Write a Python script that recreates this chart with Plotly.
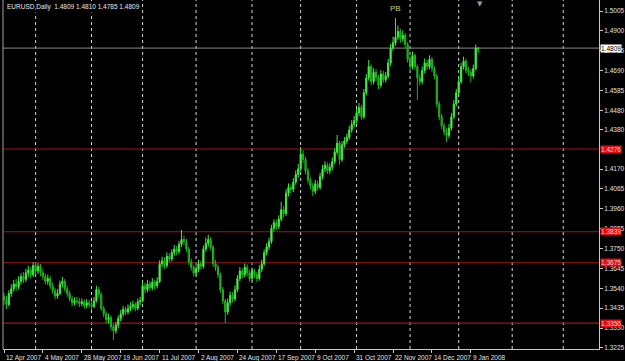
import pandas as pd
import plotly.graph_objects as go

# ---------------- data ----------------
holidays = ["2007-12-25", "2008-01-01"]
dates = [d for d in pd.bdate_range("2007-04-12", "2008-01-14") if d.strftime("%Y-%m-%d") not in holidays]

opens = [
1.3495,1.3480,1.3455,1.3513,1.3538,1.3563,1.3548,1.3577,1.3602,1.3587,
1.3622,1.3636,1.3612,1.3661,1.3631,1.3656,1.3622,1.3602,1.3577,1.3592,
1.3553,1.3528,1.3499,1.3513,1.3563,1.3577,1.3538,1.3513,1.3484,1.3464,
1.3474,1.3470,1.3459,1.3469,1.3449,1.3464,1.3454,1.3444,1.3474,1.3533,
1.3508,1.3434,1.3405,1.3375,1.3385,1.3336,1.3316,1.3346,1.3380,1.3405,
1.3429,1.3415,1.3434,1.3444,1.3454,1.3434,1.3469,1.3474,1.3553,1.3533,
1.3563,1.3543,1.3572,1.3553,1.3577,1.3670,1.3685,1.3660,1.3709,1.3695,
1.3729,1.3748,1.3734,1.3773,1.3798,1.3788,1.3748,1.3680,1.3651,1.3621,
1.3641,1.3670,1.3656,1.3748,1.3778,1.3798,1.3758,1.3670,1.3651,1.3612,
1.3533,1.3474,1.3415,1.3464,1.3503,1.3484,1.3533,1.3592,1.3631,1.3612,
1.3651,1.3622,1.3592,1.3631,1.3612,1.3592,1.3641,1.3670,1.3729,1.3758,
1.3788,1.3857,1.3886,1.3867,1.3906,1.3955,1.3935,1.4043,1.4073,1.4063,
1.4102,1.4141,1.4171,1.4249,1.4220,1.4161,1.4112,1.4082,1.4053,1.4092,
1.4073,1.4131,1.4171,1.4190,1.4161,1.4180,1.4210,1.4259,1.4308,1.4220,
1.4298,1.4318,1.4338,1.4377,1.4407,1.4426,1.4466,1.4495,1.4446,1.4573,
1.4652,1.4711,1.4632,1.4681,1.4652,1.4613,1.4672,1.4642,1.4662,1.4730,
1.4809,1.4838,1.4867,1.4897,1.4858,1.4877,1.4828,1.4750,1.4711,1.4770,
1.4711,1.4652,1.4632,1.4691,1.4730,1.4711,1.4750,1.4701,1.4662,1.4514,
1.4446,1.4397,1.4367,1.4348,1.4387,1.4446,1.4514,1.4573,1.4632,1.4711,
1.4740,1.4691,1.4681,1.4662,1.4701,1.4809]

highs = [
1.3516,1.3501,1.3530,1.3561,1.3584,1.3589,1.3604,1.3620,1.3626,1.3644,
1.3659,1.3653,1.3679,1.3677,1.3673,1.3669,1.3643,1.3618,1.3613,1.3606,
1.3571,1.3543,1.3536,1.3582,1.3600,1.3589,1.3554,1.3526,1.3500,1.3492,
1.3496,1.3489,1.3486,1.3481,1.3483,1.3480,1.3472,1.3495,1.3554,1.3547,
1.3519,1.3447,1.3418,1.3406,1.3397,1.3351,1.3362,1.3397,1.3426,1.3447,
1.3443,1.3455,1.3466,1.3475,1.3467,1.3486,1.3495,1.3574,1.3571,1.3585,
1.3579,1.3594,1.3586,1.3599,1.3688,1.3707,1.3704,1.3730,1.3726,1.3746,
1.3769,1.3764,1.3790,1.3848,1.3819,1.3802,1.3759,1.3697,1.3663,1.3661,
1.3691,1.3686,1.3766,1.3808,1.3824,1.3811,1.3768,1.3691,1.3665,1.3623,
1.3547,1.3485,1.3486,1.3523,1.3520,1.3555,1.3610,1.3652,1.3646,1.3671,
1.3667,1.3636,1.3648,1.3643,1.3628,1.3661,1.3691,1.3746,1.3779,1.3808,
1.3875,1.3904,1.3903,1.3926,1.3998,1.3974,1.4063,1.4094,1.4090,1.4122,
1.4163,1.4196,1.4287,1.4270,1.4234,1.4177,1.4126,1.4098,1.4113,1.4108,
1.4151,1.4192,1.4212,1.4205,1.4200,1.4231,1.4280,1.4350,1.4320,1.4318,
1.4339,1.4357,1.4398,1.4428,1.4451,1.4489,1.4519,1.4509,1.4593,1.4673,
1.4746,1.4723,1.4703,1.4698,1.4666,1.4692,1.4688,1.4683,1.4752,1.4831,
1.4869,1.4968,1.4928,1.4911,1.4902,1.4889,1.4840,1.4766,1.4791,1.4781,
1.4722,1.4671,1.4712,1.4754,1.4747,1.4771,1.4762,1.4713,1.4672,1.4529,
1.4461,1.4413,1.4385,1.4408,1.4467,1.4535,1.4594,1.4654,1.4731,1.4764,
1.4753,1.4711,1.4698,1.4722,1.4828,1.4810]

lows = [
1.3452,1.3430,1.3444,1.3495,1.3523,1.3527,1.3535,1.3560,1.3568,1.3573,
1.3602,1.3591,1.3600,1.3613,1.3616,1.3604,1.3583,1.3561,1.3559,1.3537,
1.3511,1.3482,1.3485,1.3505,1.3545,1.3522,1.3496,1.3470,1.3445,1.3451,
1.3455,1.3441,1.3444,1.3432,1.3435,1.3438,1.3426,1.3436,1.3465,1.3490,
1.3422,1.3387,1.3356,1.3353,1.3317,1.3267,1.3300,1.3330,1.3366,1.3391,
1.3398,1.3402,1.3419,1.3427,1.3418,1.3423,1.3451,1.3466,1.3514,1.3519,
1.3526,1.3530,1.3534,1.3540,1.3568,1.3652,1.3643,1.3648,1.3677,1.3681,
1.3712,1.3716,1.3720,1.3759,1.3767,1.3731,1.3664,1.3633,1.3603,1.3606,
1.3627,1.3638,1.3645,1.3733,1.3760,1.3740,1.3654,1.3632,1.3594,1.3517,
1.3456,1.3357,1.3400,1.3448,1.3466,1.3471,1.3520,1.3578,1.3594,1.3598,
1.3604,1.3575,1.3580,1.3595,1.3572,1.3580,1.3626,1.3660,1.3714,1.3743,
1.3776,1.3840,1.3849,1.3854,1.3893,1.3915,1.3922,1.4025,1.4043,1.4049,
1.4087,1.4124,1.4158,1.4202,1.4143,1.4094,1.4063,1.4027,1.4038,1.4056,
1.4061,1.4116,1.4154,1.4144,1.4143,1.4164,1.4196,1.4246,1.4193,1.4207,
1.4283,1.4303,1.4324,1.4362,1.4390,1.4412,1.4450,1.4430,1.4434,1.4560,
1.4638,1.4614,1.4617,1.4636,1.4593,1.4600,1.4626,1.4627,1.4650,1.4717,
1.4795,1.4822,1.4852,1.4837,1.4843,1.4811,1.4732,1.4694,1.4699,1.4695,
1.4535,1.4612,1.4618,1.4676,1.4694,1.4697,1.4684,1.4644,1.4497,1.4428,
1.4380,1.4347,1.4313,1.4333,1.4372,1.4433,1.4502,1.4560,1.4620,1.4696,
1.4674,1.4662,1.4628,1.4648,1.4690,1.4785]

closes = [
1.3480,1.3455,1.3513,1.3538,1.3563,1.3548,1.3577,1.3602,1.3587,1.3622,
1.3636,1.3612,1.3661,1.3631,1.3656,1.3622,1.3602,1.3577,1.3592,1.3553,
1.3528,1.3499,1.3513,1.3563,1.3577,1.3538,1.3513,1.3484,1.3464,1.3474,
1.3470,1.3459,1.3469,1.3449,1.3464,1.3454,1.3444,1.3474,1.3533,1.3508,
1.3434,1.3405,1.3375,1.3385,1.3336,1.3316,1.3346,1.3380,1.3405,1.3429,
1.3415,1.3434,1.3444,1.3454,1.3434,1.3469,1.3474,1.3553,1.3533,1.3563,
1.3543,1.3572,1.3553,1.3577,1.3670,1.3685,1.3660,1.3709,1.3695,1.3729,
1.3748,1.3734,1.3773,1.3798,1.3788,1.3748,1.3680,1.3651,1.3621,1.3641,
1.3670,1.3656,1.3748,1.3778,1.3798,1.3758,1.3670,1.3651,1.3612,1.3533,
1.3474,1.3415,1.3464,1.3503,1.3484,1.3533,1.3592,1.3631,1.3612,1.3651,
1.3622,1.3592,1.3631,1.3612,1.3592,1.3641,1.3670,1.3729,1.3758,1.3788,
1.3857,1.3886,1.3867,1.3906,1.3955,1.3935,1.4043,1.4073,1.4063,1.4102,
1.4141,1.4171,1.4249,1.4220,1.4161,1.4112,1.4082,1.4053,1.4092,1.4073,
1.4131,1.4171,1.4190,1.4161,1.4180,1.4210,1.4259,1.4308,1.4220,1.4298,
1.4318,1.4338,1.4377,1.4407,1.4426,1.4466,1.4495,1.4446,1.4573,1.4652,
1.4711,1.4632,1.4681,1.4652,1.4613,1.4672,1.4642,1.4662,1.4730,1.4809,
1.4838,1.4867,1.4897,1.4858,1.4877,1.4828,1.4750,1.4711,1.4770,1.4711,
1.4652,1.4632,1.4691,1.4730,1.4711,1.4750,1.4701,1.4662,1.4514,1.4446,
1.4397,1.4367,1.4348,1.4387,1.4446,1.4514,1.4573,1.4632,1.4711,1.4740,
1.4691,1.4681,1.4662,1.4701,1.4809,1.4809]

header = "EURUSD,Daily  1.4809 1.4810 1.4785 1.4809"
bid_price = 1.4809
level_prices = [1.4276, 1.3839, 1.3675, 1.3356]
price_ticks = [1.5005, 1.4900, 1.4795, 1.4690, 1.4585, 1.4480, 1.4380, 1.4170,
               1.4065, 1.3960, 1.3855, 1.3750, 1.3645, 1.3540, 1.3435, 1.3330, 1.3225]
label_every = 16
month_grid = [13, 36, 57, 79, 102, 122, 145, 167, 187, 209, 230]
peak_bar = 161
peak_label = "PB"

# ---------------- figure ----------------
idx = list(range(len(closes)))
W, H = 625, 361
ML, MR, MT, MB = 3, 24, 0, 12
FONT = "Liberation Sans"
AXC = "#c8c8c8"

fig = go.Figure(go.Candlestick(
    x=idx, open=opens, high=highs, low=lows, close=closes,
    increasing=dict(line=dict(color="#3ee83e", width=1), fillcolor="#6cff6c"),
    decreasing=dict(line=dict(color="#22b322", width=1), fillcolor="#1c9c1c"),
    whiskerwidth=0, hoverinfo="skip"))

shapes = []
for m in month_grid:
    shapes.append(dict(type="line", xref="x", yref="paper", x0=m, x1=m, y0=0, y1=1,
                       line=dict(color="#d8d8d8", width=1, dash="dot"), layer="below"))
for p in level_prices:
    shapes.append(dict(type="line", xref="paper", yref="y", x0=0, x1=1, y0=p, y1=p,
                       line=dict(color="#a01414", width=1.2), layer="below"))
shapes.append(dict(type="line", xref="paper", yref="y", x0=0, x1=1, y0=bid_price, y1=bid_price,
                   line=dict(color="#8a8a8a", width=1), layer="below"))
shapes.append(dict(type="line", xref="paper", yref="paper", x0=0, x1=0, y0=0, y1=1,
                   line=dict(color="#a0a0a0", width=1)))

annotations = []
label_idx = list(range(0, len(dates), label_every))
for i in label_idx:
    d = dates[i]
    annotations.append(dict(x=i, xref="x", y=0, yref="paper", yanchor="top", xanchor="left",
                            xshift=0, yshift=-3, showarrow=False,
                            text=f"{d.day} {d.strftime('%b %Y')}",
                            font=dict(family=FONT, size=6.5, color="#e0e0e0")))
for p in level_prices:
    annotations.append(dict(x=1, xref="paper", y=p, yref="y", xanchor="left", yanchor="middle",
                            xshift=1, showarrow=False, text=f"{p:.4f}", bgcolor="#dd1010",
                            borderpad=0, font=dict(family=FONT, size=6.5, color="#ffc8c8")))
annotations.append(dict(x=1, xref="paper", y=bid_price, yref="y", xanchor="left", yanchor="middle",
                        xshift=1, showarrow=False, text=f"{bid_price:.4f}", bgcolor="#ffffff",
                        borderpad=0, font=dict(family=FONT, size=6.5, color="#000000")))
annotations.append(dict(x=0, xref="paper", y=1, yref="paper", xanchor="left", yanchor="top",
                        xshift=2, yshift=-1, showarrow=False, text=header, bgcolor="#000000",
                        borderpad=1, font=dict(family=FONT, size=6.5, color="#e8e8e8")))
annotations.append(dict(x=peak_bar, xref="x", y=highs[peak_bar], yref="y", yanchor="bottom",
                        xanchor="center", yshift=3, showarrow=False, text=peak_label,
                        font=dict(family=FONT, size=8, color="#c8c878")))
annotations.append(dict(x=len(closes) - 1, xref="x", y=1, yref="paper", yanchor="top",
                        xanchor="center", xshift=2, yshift=2, showarrow=False, text="▼",
                        font=dict(family="DejaVu Sans", size=7, color="#9a9a9a")))

fig.update_layout(
    width=W, height=H, margin=dict(l=ML, r=MR, t=MT, b=MB),
    paper_bgcolor="#000000", plot_bgcolor="#000000", showlegend=False,
    shapes=shapes, annotations=annotations, hovermode=False,
    xaxis=dict(range=[-0.41, 244.7], rangeslider=dict(visible=False), showgrid=False,
               zeroline=False, tickvals=label_idx, ticktext=[""] * len(label_idx),
               ticks="outside", ticklen=3, tickcolor=AXC, showline=True, linecolor=AXC,
               linewidth=1, fixedrange=True),
    yaxis=dict(range=[1.32195, 1.50631], side="right", showgrid=False, zeroline=False,
               tickvals=price_ticks, ticktext=[f"{v:.4f}" for v in price_ticks],
               ticks="outside", ticklen=3, tickcolor=AXC, showline=True, linecolor=AXC,
               linewidth=1, tickfont=dict(family=FONT, size=6.5, color="#e0e0e0"),
               fixedrange=True),
)

fig.write_html("out.html")
